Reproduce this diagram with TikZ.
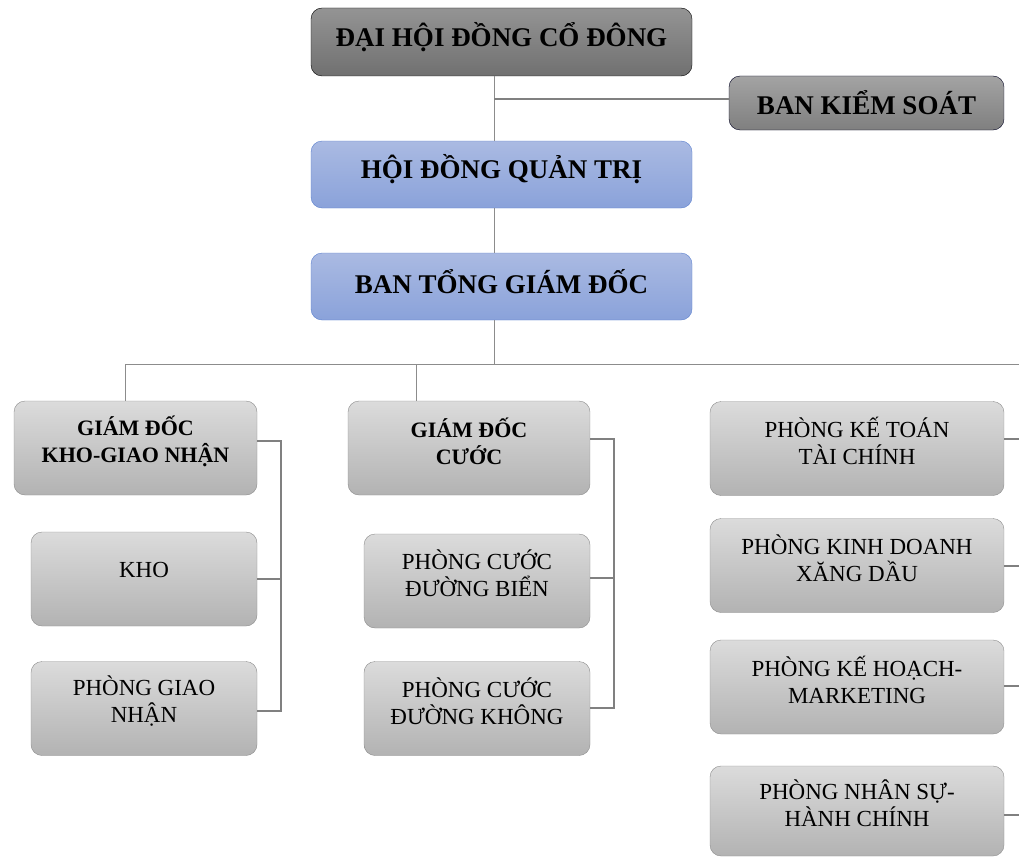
\documentclass[tikz,border=0pt]{standalone}
\usepackage{fontspec}
\setmainfont{Liberation Serif}
\begin{document}
\begin{tikzpicture}[x=1pt,y=-1pt,
  box/.style={draw, rounded corners=11pt, inner sep=0pt, minimum height=#1},
  txt/.style={align=center, inner sep=0pt},
  grayb/.style={box=94, draw=black!45, top color=black!14, bottom color=black!30},
  gt/.style={txt, font=\fontsize{23}{27}\selectfont},
  gbt/.style={txt, font=\bfseries\fontsize{22}{27}\selectfont},
  topb/.style={box=68, draw=black, top color=black!42, bottom color=black!56},
  bigt/.style={txt, font=\bfseries\fontsize{27}{32}\selectfont},
  ksb/.style={box=54, draw=black!70!blue!40!black, top color=black!36, bottom color=black!50},
  kst/.style={txt, font=\bfseries\fontsize{27}{30}\selectfont},
  blueb/.style={box=67, draw={rgb,255:red,91;green,128;blue,206}, top color={rgb,255:red,170;green,186;blue,226}, bottom color={rgb,255:red,138;green,162;blue,218}},
  conn/.style={draw=black!50, line width=1.5pt},
  connl/.style={draw=black!45, line width=1pt}]
\useasboundingbox (0,0) rectangle (1019,856);
% top boxes
\node[topb, minimum width=381] (dh) at (501.5,42) {};
\node[bigt] (dh-t) at ([yshift=4.5pt]dh.center) {ĐẠI HỘI ĐỒNG CỔ ĐÔNG};
\node[ksb, minimum width=275] (ks) at (866.5,103) {};
\node[kst] (ks-t) at ([yshift=0pt]ks.center) {BAN KIỂM SOÁT};
\node[blueb, minimum width=381] (hd) at (501.5,174.5) {};
\node[bigt] (hd-t) at ([yshift=5pt]hd.center) {HỘI ĐỒNG QUẢN TRỊ};
\node[blueb, minimum width=381] (tgd) at (501.5,286.5) {};
\node[bigt] (tgd-t) at ([yshift=4.5pt]tgd.center) {BAN TỔNG GIÁM ĐỐC};
% left column
\node[grayb, minimum width=243] (gdk) at (135.5,448) {};
\node[gbt] (gdk-t) at ([yshift=7pt]gdk.center) {GIÁM ĐỐC\\KHO-GIAO NHẬN};
\node[grayb, minimum width=226] (kho) at (144,579) {};
\node[gt] (kho-t) at ([yshift=9.5pt]kho.center) {KHO};
\node[grayb, minimum width=226] (gn) at (144,708.5) {};
\node[gt] (gn-t) at ([yshift=7pt]gn.center) {PHÒNG GIAO\\NHẬN};
% middle column
\node[grayb, minimum width=242] (gdc) at (469,448) {};
\node[gbt] (gdc-t) at ([yshift=7pt]gdc.center) {GIÁM ĐỐC\\CƯỚC};
\node[grayb, minimum width=226] (cb) at (477,581) {};
\node[gt] (cb-t) at ([yshift=8pt]cb.center) {PHÒNG CƯỚC\\ĐƯỜNG BIỂN};
\node[grayb, minimum width=226] (ck) at (477,708.5) {};
\node[gt] (ck-t) at ([yshift=7pt]ck.center) {PHÒNG CƯỚC\\ĐƯỜNG KHÔNG};
% right column
\node[grayb, minimum width=294] (kt) at (857,448.5) {};
\node[gt] (kt-t) at ([yshift=7.5pt]kt.center) {PHÒNG KẾ TOÁN\\TÀI CHÍNH};
\node[grayb, minimum width=294] (kd) at (857,565.5) {};
\node[gt] (kd-t) at ([yshift=7.5pt]kd.center) {PHÒNG KINH DOANH\\XĂNG DẦU};
\node[grayb, minimum width=294] (kh) at (857,687) {};
\node[gt] (kh-t) at ([yshift=7.5pt]kh.center) {PHÒNG KẾ HOẠCH-\\MARKETING};
\node[grayb, minimum width=294, minimum height=90] (ns) at (857,811) {};
\node[gt] (ns-t) at ([yshift=7.5pt]ns.center) {PHÒNG NHÂN SỰ-\\HÀNH CHÍNH};
% coordinates
\coordinate (busL) at (125,364);
\coordinate (busR) at (1019,364);
\coordinate (busM) at (494,364);
\coordinate (busC) at (416,364);
\coordinate (ksj) at (494,99);
\coordinate (r1) at (1019,439);
\coordinate (r2) at (1019,566);
\coordinate (r3) at (1019,686);
\coordinate (r4) at (1019,815);
\coordinate (jk) at (281,441);
\coordinate (jc) at (614,439);
% connectors
\draw[connl] (dh.south -| busM) -- (hd.north -| busM);
\draw[conn] (ksj) -- (ksj -| ks.west);
\draw[connl] (hd.south -| busM) -- (tgd.north -| busM);
\draw[connl] (tgd.south -| busM) -- (busM);
\draw[connl] (busL) -- (busR);
\draw[connl] (busL) -- (gdk.north -| busL);
\draw[connl] (busC) -- (gdc.north -| busC);
\draw[conn] (jk -| gdk.east) -- (jk) -- (jk |- 0,711) -- (gn.east |- 0,711);
\draw[conn] (kho.east |- 0,579) -- (jk |- 0,579);
\draw[conn] (jc -| gdc.east) -- (jc) -- (jc |- 0,708) -- (ck.east |- 0,708);
\draw[conn] (cb.east |- 0,578) -- (jc |- 0,578);
\draw[conn] (kt.east |- r1) -- (r1);
\draw[conn] (kd.east |- r2) -- (r2);
\draw[conn] (kh.east |- r3) -- (r3);
\draw[conn] (ns.east |- r4) -- (r4);
\end{tikzpicture}
\end{document}
